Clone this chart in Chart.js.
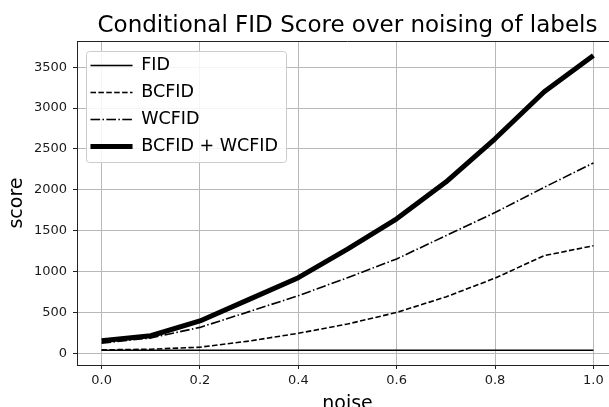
<!DOCTYPE html>
<html>
<head>
<meta charset="utf-8">
<script src="https://cdn.jsdelivr.net/npm/chart.js@4.4.1/dist/chart.umd.min.js"></script>
<style>
  html, body { margin: 0; padding: 0; background: #fff; }
  #wrap { width: 609px; height: 407px; overflow: hidden; }
  canvas { display: block; }
</style>
</head>
<body>
<div id="wrap"><canvas id="myChart" width="630" height="420"></canvas></div>
<script>
// values
let noise = [0.0, 0.1, 0.2, 0.3, 0.4, 0.5, 0.6, 0.7, 0.8, 0.9, 1.0];
let fid   = [38, 38, 38, 38, 38, 38, 38, 38, 38, 38, 38];
let bcfid = [42, 50, 75, 150, 245, 358, 500, 690, 920, 1195, 1316];
let wcfid = [125, 188, 317, 510, 705, 925, 1155, 1439, 1722, 2031, 2329];
let both  = [155, 215, 396, 660, 925, 1275, 1645, 2095, 2625, 3200, 3643];
let xTicks = [0.0, 0.2, 0.4, 0.6, 0.8, 1.0];
let yTicks = [0, 500, 1000, 1500, 2000, 2500, 3000, 3500];

let font = "'DejaVu Sans', sans-serif";

function points(ys) {
  return noise.map(function(x, i) { return {x: x, y: ys[i]}; });
}

// top/right spines and the legend frame (matplotlib look)
let extras = {
  id: 'extras',
  afterLayout: function(chart) {
    let a = chart.chartArea;
    chart.legend.left = a.left + 4;
    chart.legend.top = a.top + 6.2;
    chart.legend.bottom = a.bottom;
  },
  beforeDatasetsDraw: function(chart) {
    let ctx = chart.ctx;
    let a = chart.chartArea;
    ctx.save();
    ctx.strokeStyle = '#222';
    ctx.lineWidth = 1;
    ctx.beginPath();
    ctx.moveTo(a.left, Math.round(a.top) + 0.5);
    ctx.lineTo(a.right, Math.round(a.top) + 0.5);
    ctx.lineTo(a.right, a.bottom);
    ctx.stroke();

    let boxes = chart.legend.legendHitBoxes;
    if (boxes && boxes.length) {
      let l = Math.min.apply(null, boxes.map(function(b) { return b.left; })) - 5;
      let r = Math.max.apply(null, boxes.map(function(b) { return b.left + b.width; })) + 8;
      let t = boxes[0].top - 5.5;
      let last = boxes[boxes.length - 1];
      let btm = last.top + last.height + 7.5;
      ctx.beginPath();
      ctx.roundRect(Math.round(l) + 0.5, Math.round(t) + 0.5, Math.round(r - l), Math.round(btm - t), 3);
      ctx.fillStyle = 'rgba(255,255,255,0.85)';
      ctx.fill();
      ctx.strokeStyle = '#cccccc';
      ctx.stroke();
    }
    ctx.restore();
    chart.legend.draw(a);
  }
};

let myChart = document.getElementById("myChart").getContext('2d');

let fidChart = new Chart(myChart, {
  type: 'line',
  data: {
    datasets: [{
      label: 'FID',
      data: points(fid),
      borderColor: '#000',
      borderWidth: 1.6,
      order: 4
    }, {
      label: 'BCFID',
      data: points(bcfid),
      borderColor: '#000',
      borderWidth: 1.6,
      borderDash: [5.5, 2.4],
      order: 3
    }, {
      label: 'WCFID',
      data: points(wcfid),
      borderColor: '#000',
      borderWidth: 1.6,
      borderDash: [9.6, 2.4, 1.5, 2.4],
      order: 2
    }, {
      label: 'BCFID + WCFID',
      data: points(both),
      borderColor: '#000',
      borderWidth: 5,
      order: 1
    }]
  },
  options: {
    responsive: false,
    animation: false,
    events: [],
    elements: {
      point: { radius: 0 },
      line: { tension: 0, borderJoinStyle: 'round', fill: false }
    },
    layout: { padding: { left: 0, right: 12, top: 0, bottom: 0 } },
    plugins: {
      tooltip: { enabled: false },
      title: {
        display: true,
        text: 'Conditional FID Score over noising of labels',
        color: '#000',
        fullSize: false,
        font: { family: font, size: 23, weight: 'normal' },
        padding: { top: 12.5, bottom: 0.9 }
      },
      legend: {
        position: 'chartArea',
        align: 'start',
        labels: {
          color: '#000',
          font: { family: font, size: 17.5 },
          usePointStyle: true,
          pointStyle: 'line',
          pointStyleWidth: 42,
          padding: 9.5,
          sort: function(a, b) { return a.datasetIndex - b.datasetIndex; },
          generateLabels: function(chart) {
            let items = Chart.defaults.plugins.legend.labels.generateLabels(chart);
            items.forEach(function(item) {
              let ds = chart.data.datasets[item.datasetIndex];
              item.lineDash = ds.borderDash || [];
              item.lineWidth = ds.borderWidth;
              item.strokeStyle = ds.borderColor;
              item.lineCap = 'butt';
            });
            return items;
          }
        }
      }
    },
    scales: {
      x: {
        type: 'linear',
        min: -0.05,
        max: 1.05,
        afterBuildTicks: function(scale) {
          scale.ticks = xTicks.map(function(v) { return {value: v}; });
        },
        afterFit: function(scale) { scale.height = 55; },
        ticks: {
          color: '#1a1a1a',
          font: { family: font, size: 13 },
          padding: 4,
          maxRotation: 0,
          callback: function(v) { return Number(v).toFixed(1); }
        },
        grid: { color: '#b8b8b8', lineWidth: 1, tickLength: 4, tickColor: '#222' },
        border: { color: '#222', width: 1 },
        title: {
          display: true,
          text: 'noise',
          color: '#000',
          font: { family: font, size: 19 },
          padding: { top: 0, bottom: 5 }
        }
      },
      y: {
        min: -143,
        max: 3821,
        afterBuildTicks: function(scale) {
          scale.ticks = yTicks.map(function(v) { return {value: v}; });
        },
        afterFit: function(scale) { scale.width = 77; },
        ticks: {
          color: '#1a1a1a',
          font: { family: font, size: 13 },
          padding: 6,
          callback: function(v) { return String(v); }
        },
        grid: { color: '#b8b8b8', lineWidth: 1, tickLength: 4, tickColor: '#222' },
        border: { color: '#222', width: 1 },
        title: {
          display: true,
          text: 'score',
          color: '#000',
          font: { family: font, size: 19 },
          padding: { top: 5.6, bottom: 0 }
        }
      }
    }
  },
  plugins: [extras]
});
</script>
</body>
</html>
